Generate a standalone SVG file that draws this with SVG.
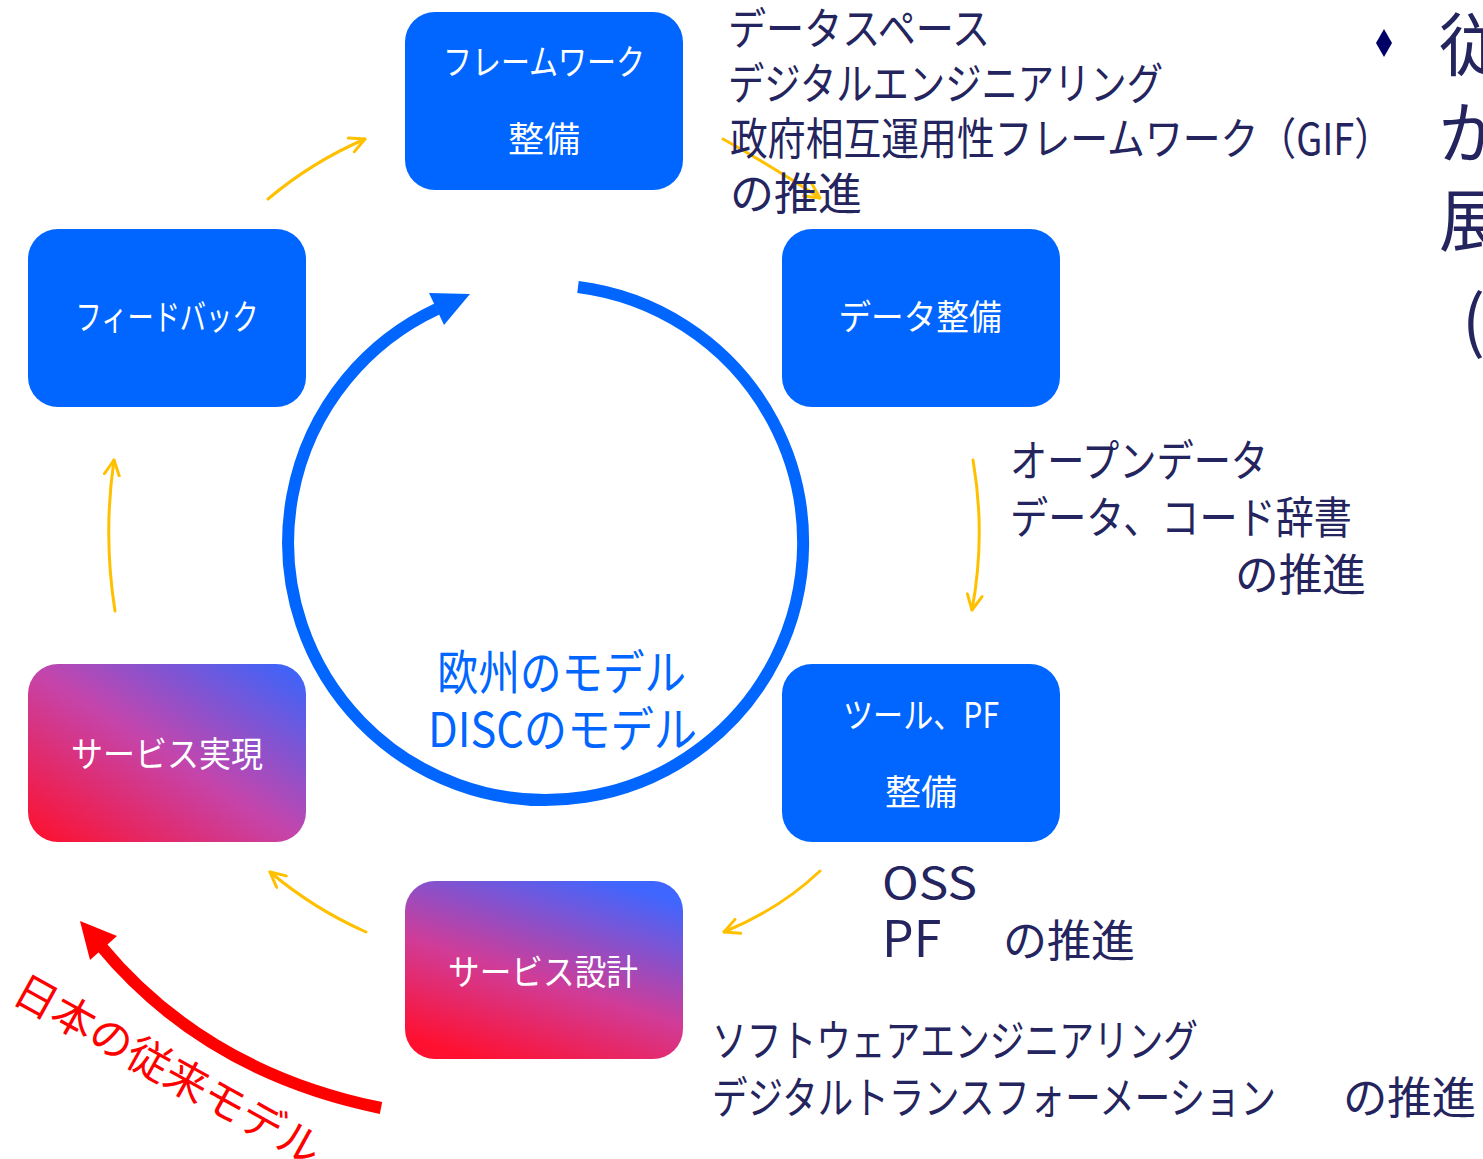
<svg xmlns="http://www.w3.org/2000/svg" width="1483" height="1159" viewBox="0 0 1483 1159">
<style>
.box{fill:#0066FF}
.nt{fill:#FFFFFF;font-family:"Noto Sans CJK JP","Noto Sans",sans-serif;font-size:35px;text-anchor:middle}
.dt{fill:#24245E;font-family:"Noto Sans CJK JP","Noto Sans",sans-serif;font-size:44px}
.yl{fill:none;stroke:#FFC000;stroke-width:3;stroke-linecap:round;marker-end:url(#ya)}
</style>
<defs>
<marker id="ya" viewBox="0 0 12 12" refX="11" refY="6" markerWidth="6" markerHeight="6" orient="auto" markerUnits="strokeWidth">
<path d="M1,1 L11,6 L1,11" fill="none" stroke="#FFC000" stroke-width="2" stroke-linecap="round" stroke-linejoin="round"/>
</marker>
<linearGradient id="g1" x1="0" y1="1" x2="1" y2="0">
<stop offset="0" stop-color="#FF0F2A"/>
<stop offset="0.5" stop-color="#C445AC"/>
<stop offset="1" stop-color="#3366FF"/>
</linearGradient>
<linearGradient id="g2" x1="0.25" y1="1" x2="0.75" y2="0">
<stop offset="0" stop-color="#FF1030"/>
<stop offset="0.45" stop-color="#D03C98"/>
<stop offset="1" stop-color="#3F66FF"/>
</linearGradient>
</defs>
<rect width="1483" height="1159" fill="#FFFFFF"/>

<g id="connectors">
<path d="M578,287 A257.5,257.5 0 1 1 437,309" fill="none" stroke="#0066FF" stroke-width="12"/>
<polygon points="470,294 429,293 444,325" fill="#0066FF"/>
<path class="yl" d="M268,199 Q312,162 365,139"/>
<path class="yl" d="M723,139 Q775,168 820,198"/>
<path class="yl" d="M973,460 Q986,535 972,610"/>
<path class="yl" d="M820,871 Q780,909 724,932"/>
<path class="yl" d="M366,932 Q314,909 270,872"/>
<path class="yl" d="M115,611 Q103,535 114,460"/>
<path d="M381,1108 Q205,1072 100,945" fill="none" stroke="#FF0000" stroke-width="12"/>
<polygon points="80,921 117,936 90,960" fill="#FF0000"/>
</g>

<g id="node-framework">
<rect class="box" x="405" y="12" width="278" height="178" rx="30"/>
<text class="nt" x="544" y="75" textLength="202" lengthAdjust="spacingAndGlyphs">フレームワーク</text>
<text class="nt" x="544" y="152" textLength="72" lengthAdjust="spacingAndGlyphs">整備</text>
</g>
<g id="node-feedback">
<rect class="box" x="28" y="229" width="278" height="178" rx="30"/>
<text class="nt" x="167" y="330" textLength="183" lengthAdjust="spacingAndGlyphs">フィードバック</text>
</g>
<g id="node-data">
<rect class="box" x="782" y="229" width="278" height="178" rx="30"/>
<text class="nt" x="920" y="330" textLength="163" lengthAdjust="spacingAndGlyphs">データ整備</text>
</g>
<g id="node-tools">
<rect class="box" x="782" y="664" width="278" height="178" rx="30"/>
<text class="nt" x="921" y="728" textLength="156" lengthAdjust="spacingAndGlyphs">ツール、PF</text>
<text class="nt" x="921" y="805" textLength="72" lengthAdjust="spacingAndGlyphs">整備</text>
</g>
<g id="node-service-design">
<rect x="405" y="881" width="278" height="178" rx="30" fill="url(#g2)"/>
<text class="nt" x="543" y="985" textLength="190" lengthAdjust="spacingAndGlyphs">サービス設計</text>
</g>
<g id="node-service-realize">
<rect x="28" y="664" width="278" height="178" rx="30" fill="url(#g1)"/>
<text class="nt" x="167" y="767" textLength="192" lengthAdjust="spacingAndGlyphs">サービス実現</text>
</g>

<g id="circle-label" fill="#0066FF" font-family="'Noto Sans CJK JP','Noto Sans',sans-serif" font-size="48">
<text x="437" y="690" textLength="249" lengthAdjust="spacingAndGlyphs">欧州のモデル</text>
<text x="428" y="747" textLength="269" lengthAdjust="spacingAndGlyphs">DISCのモデル</text>
</g>

<g id="label-framework">
<text class="dt" x="728" y="45" textLength="262" lengthAdjust="spacingAndGlyphs">データスペース</text>
<text class="dt" x="728" y="100" textLength="435" lengthAdjust="spacingAndGlyphs">デジタルエンジニアリング</text>
<text class="dt" x="730" y="155" textLength="662" lengthAdjust="spacingAndGlyphs">政府相互運用性フレームワーク（GIF）</text>
<text class="dt" x="730" y="210" textLength="132" lengthAdjust="spacingAndGlyphs">の推進</text>
</g>
<g id="label-data">
<text class="dt" x="1010" y="477" textLength="258" lengthAdjust="spacingAndGlyphs">オープンデータ</text>
<text class="dt" x="1010" y="534" textLength="342" lengthAdjust="spacingAndGlyphs">データ、コード辞書</text>
<text class="dt" x="1235" y="591" textLength="131" lengthAdjust="spacingAndGlyphs">の推進</text>
</g>
<g id="label-tools">
<text class="dt" x="882" y="899" font-size="50" textLength="95" lengthAdjust="spacingAndGlyphs">OSS</text>
<text class="dt" y="957"><tspan x="882" font-size="50">PF</tspan><tspan x="1003" textLength="132" lengthAdjust="spacingAndGlyphs">の推進</tspan></text>
</g>
<g id="label-design">
<text class="dt" x="712" y="1057" textLength="486" lengthAdjust="spacingAndGlyphs">ソフトウェアエンジニアリング</text>
<text class="dt" y="1114"><tspan x="712" textLength="564" lengthAdjust="spacingAndGlyphs">デジタルトランスフォーメーション</tspan><tspan x="1343" textLength="133" lengthAdjust="spacingAndGlyphs">の推進</tspan></text>
</g>

<g id="side-text" fill="#24245E" font-family="'Noto Sans CJK JP','Noto Sans',sans-serif" font-size="68">
<polygon points="1384,29 1392,43 1384,57 1376,43" fill="#000066"/>
<text x="1439" y="70">従</text>
<text x="1439" y="158">が</text>
<text x="1439" y="246">展</text>
<text x="1462" y="346">(</text>
</g>

<g id="japan-label">
<text x="0" y="0" transform="translate(10,1000) rotate(29)" fill="#FF0000" font-family="'Noto Sans CJK JP','Noto Sans',sans-serif" font-size="43" textLength="344" lengthAdjust="spacingAndGlyphs">日本の従来モデル</text>
</g>
</svg>
